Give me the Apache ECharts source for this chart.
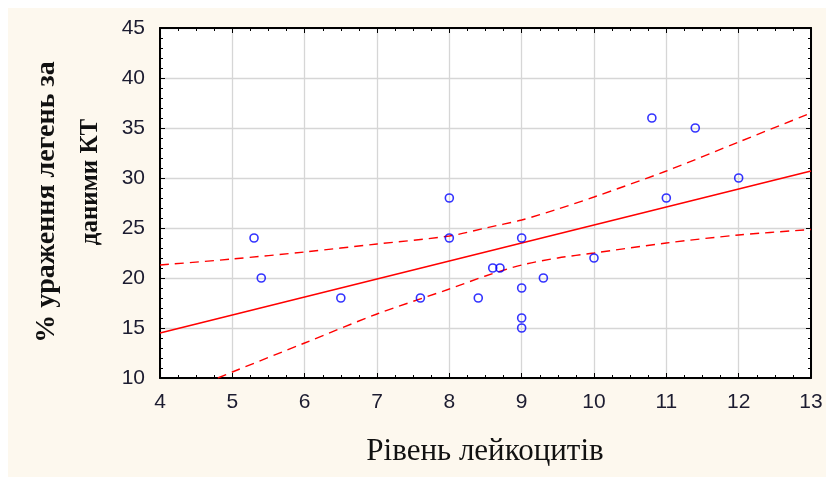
<!DOCTYPE html>
<html>
<head>
<meta charset="utf-8">
<script src="https://cdn.jsdelivr.net/npm/echarts@6/dist/echarts.min.js"></script>
<style>
  html, body { margin: 0; padding: 0; background: #ffffff; }
  #chart { width: 826px; height: 477px; }
</style>
</head>
<body>
<div id="chart"></div>
<script>
// Observations: leukocyte level vs. % of lung damage on CT
const leukocytes = [5.3, 5.4, 6.5, 7.6, 8, 8, 8.4, 8.6, 8.7, 9, 9, 9, 9, 9.3, 10, 10.8, 11, 11.4, 12];
const lungDamage = [24, 20, 18, 18, 28, 24, 18, 21, 21, 24, 19, 16, 15, 20, 22, 36, 28, 35, 30];

// Linear fit (end points)
const fitX = [4, 13];
const fitY = [14.5, 30.7];

// Confidence band, upper and lower limits
const upperX = [4, 5, 6, 7, 8, 8.5, 9, 9.5, 10, 11, 12, 13];
const upperY = [21.3, 21.9, 22.6, 23.4, 24.2, 25.0, 25.8, 26.9, 28.1, 30.7, 33.6, 36.5];
const lowerX = [4.8, 5, 6, 7, 8, 8.5, 9, 9.5, 10, 11, 12, 13];
const lowerY = [10.0, 10.6, 13.5, 16.4, 18.9, 20.2, 21.3, 22.0, 22.5, 23.5, 24.3, 24.85];

// Axis ranges and labels
const xRange = [4, 13];
const yRange = [10, 45];
const xTitle = 'Рівень лейкоцитів';
const yTitleLines = ['% ураження легень за', 'даними КТ'];

const zip = (a, b) => a.map((v, i) => [v, b[i]]);

const tickFont = {
  fontFamily: '"Liberation Sans", Arial, sans-serif',
  fontSize: 21,
  color: '#1c1c30'
};
const serif = '"Liberation Serif", "Times New Roman", serif';

const chart = echarts.init(document.getElementById('chart'), null, { renderer: 'canvas' });

const hiddenAxis = {
  axisLabel: { show: false },
  splitLine: { show: false },
  axisLine: { show: true, lineStyle: { color: '#000', width: 2 } },
  axisTick: { show: true, inside: true, length: 5, lineStyle: { color: '#000', width: 1 } }
};

chart.setOption({
  backgroundColor: '#ffffff',
  animation: false,
  graphic: [
    {
      type: 'rect', z: -10, silent: true,
      shape: { x: 8, y: 8, width: 818, height: 469 },
      style: { fill: '#fdf8ee' }
    },
    {
      type: 'text', z: 10,
      x: 485, y: 452,
      style: {
        text: xTitle,
        fontFamily: serif,
        fontSize: 31,
        fill: '#111111',
        align: 'center',
        verticalAlign: 'middle'
      }
    },
    {
      type: 'text', z: 10,
      x: 47, y: 202, rotation: Math.PI / 2,
      style: {
        text: yTitleLines[0],
        fontFamily: serif,
        fontWeight: 'bold',
        fontSize: 28,
        fill: '#111111',
        align: 'center',
        verticalAlign: 'middle'
      }
    },
    {
      type: 'text', z: 10,
      x: 91, y: 182, rotation: Math.PI / 2,
      style: {
        text: yTitleLines[1],
        fontFamily: serif,
        fontWeight: 'bold',
        fontSize: 25,
        fill: '#111111',
        align: 'center',
        verticalAlign: 'middle'
      }
    }
  ],
  grid: {
    left: 160, top: 28, right: 15, bottom: 99,
    show: true,
    backgroundColor: '#ffffff',
    borderColor: '#000',
    borderWidth: 0
  },
  xAxis: [
    {
      type: 'value', min: xRange[0], max: xRange[1], interval: 1,
      position: 'bottom',
      axisLine: { show: true, onZero: false, lineStyle: { color: '#000', width: 2 } },
      axisTick: { show: true, inside: true, length: 5, lineStyle: { color: '#000', width: 1 } },
      minorTick: { show: true, splitNumber: 4, length: 3, lineStyle: { color: '#000', width: 1 } },
      axisLabel: Object.assign({ margin: 14 }, tickFont),
      splitLine: { show: true, lineStyle: { color: '#d6d6d6', width: 1.3 } }
    },
    Object.assign({
      type: 'value', min: xRange[0], max: xRange[1], interval: 1,
      position: 'top',
      minorTick: { show: true, splitNumber: 4, length: 3, lineStyle: { color: '#000', width: 1 } }
    }, hiddenAxis)
  ],
  yAxis: [
    {
      type: 'value', min: yRange[0], max: yRange[1], interval: 5,
      position: 'left',
      axisLine: { show: true, onZero: false, lineStyle: { color: '#000', width: 2 } },
      axisTick: { show: true, inside: true, length: 5, lineStyle: { color: '#000', width: 1 } },
      minorTick: { show: true, splitNumber: 5, length: 3, lineStyle: { color: '#000', width: 1 } },
      axisLabel: Object.assign({ margin: 15 }, tickFont),
      splitLine: { show: true, lineStyle: { color: '#d6d6d6', width: 1.3 } }
    },
    Object.assign({
      type: 'value', min: yRange[0], max: yRange[1], interval: 5,
      position: 'right',
      minorTick: { show: true, splitNumber: 5, length: 3, lineStyle: { color: '#000', width: 1 } }
    }, hiddenAxis)
  ],
  series: [
    {
      type: 'line',
      data: zip(upperX, upperY),
      smooth: 0.3,
      showSymbol: false,
      clip: true,
      lineStyle: { color: '#ff0000', width: 1.4, type: [9, 6] },
      z: 3
    },
    {
      type: 'line',
      data: zip(lowerX, lowerY),
      smooth: 0.3,
      showSymbol: false,
      clip: true,
      lineStyle: { color: '#ff0000', width: 1.4, type: [9, 6] },
      z: 3
    },
    {
      type: 'line',
      data: zip(fitX, fitY),
      showSymbol: false,
      clip: true,
      lineStyle: { color: '#ff0000', width: 1.6 },
      z: 3
    },
    {
      type: 'scatter',
      data: zip(leukocytes, lungDamage),
      symbol: 'circle',
      symbolSize: 8,
      itemStyle: { color: 'rgba(255,255,255,0)', borderColor: '#0000ff', borderWidth: 1.6 },
      z: 5
    }
  ]
});
</script>
</body>
</html>
